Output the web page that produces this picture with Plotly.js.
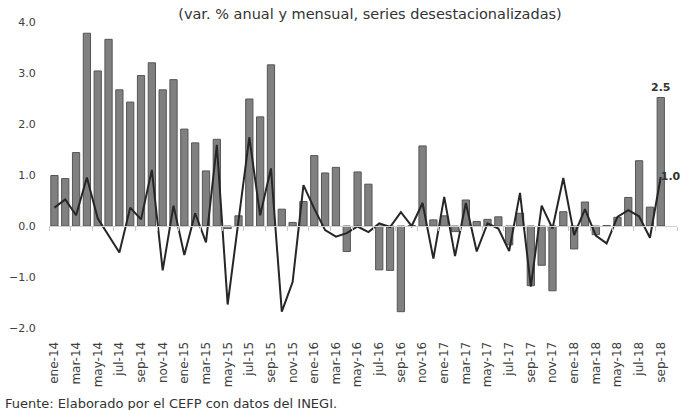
<!DOCTYPE html>
<html>
<head>
<meta charset="utf-8">
<script src="https://cdn.plot.ly/plotly-3.0.1.min.js"></script>
<style>html,body{margin:0;padding:0;background:#fff;}#chart{width:690px;height:410px;}</style>
</head>
<body>
<div id="chart"></div>
<script>
const categories = [
  "ene-14","feb-14","mar-14","abr-14","may-14","jun-14","jul-14","ago-14","sep-14","oct-14","nov-14","dic-14",
  "ene-15","feb-15","mar-15","abr-15","may-15","jun-15","jul-15","ago-15","sep-15","oct-15","nov-15","dic-15",
  "ene-16","feb-16","mar-16","abr-16","may-16","jun-16","jul-16","ago-16","sep-16","oct-16","nov-16","dic-16",
  "ene-17","feb-17","mar-17","abr-17","may-17","jun-17","jul-17","ago-17","sep-17","oct-17","nov-17","dic-17",
  "ene-18","feb-18","mar-18","abr-18","may-18","jun-18","jul-18","ago-18","sep-18"
];
// Variación % anual (barras)
const anual = [
  0.99, 0.93, 1.44, 3.78, 3.04, 3.66, 2.67, 2.43, 2.95, 3.20, 2.67, 2.87,
  1.90, 1.63, 1.08, 1.70, -0.05, 0.20, 2.49, 2.14, 3.16, 0.33, 0.07, 0.48,
  1.38, 1.04, 1.15, -0.50, 1.06, 0.82, -0.86, -0.87, -1.68, 0.01, 1.57, 0.12,
  0.20, -0.11, 0.51, 0.09, 0.13, 0.18, -0.37, 0.25, -1.17, -0.77, -1.27, 0.28,
  -0.45, 0.47, -0.17, 0.01, 0.17, 0.56, 1.28, 0.37, 2.52
];
// Variación % mensual (línea)
const mensual = [
  0.36, 0.52, 0.21, 0.95, 0.15, -0.18, -0.52, 0.36, 0.13, 1.10, -0.87, 0.40,
  -0.57, 0.25, -0.32, 1.59, -1.54, 0.10, 1.74, 0.21, 1.13, -1.68, -1.10, 0.80,
  0.34, -0.08, -0.21, -0.14, -0.01, -0.12, 0.05, -0.02, 0.27, 0.00, 0.45, -0.64,
  0.57, -0.59, 0.45, -0.50, 0.05, -0.05, -0.49, 0.65, -1.19, 0.40, -0.05, 0.94,
  -0.18, 0.33, -0.19, -0.34, 0.18, 0.31, 0.19, -0.23, 0.96
];
const tickLabels = categories.filter((c, i) => i % 2 === 0);

const lastIdx = categories.length - 1;
const barText = anual.map((v, i) => i === lastIdx ? v.toFixed(1) : "");
const lineText = mensual.map((v, i) => i === lastIdx ? v.toFixed(1) : "");

const FONT = "DejaVu Sans, sans-serif";
const yMin = -2, yMax = 4;

const traces = [
  {
    type: "bar", x: categories, y: anual,
    marker: {color: "#808080", line: {color: "#555555", width: 1}},
    text: barText, textposition: "outside", cliponaxis: false, constraintext: "none",
    textfont: {family: FONT, size: 11, color: "#333333", weight: "bold"},
    hoverinfo: "x+y", showlegend: false
  },
  {
    type: "scatter", mode: "lines+text", x: categories, y: mensual,
    line: {color: "#262626", width: 2},
    text: lineText, textposition: "middle right", cliponaxis: false,
    textfont: {family: FONT, size: 11, color: "#333333", weight: "bold"},
    showlegend: false
  },
  {type: "scatter", x: [], y: [], xaxis: "x2", showlegend: false, hoverinfo: "skip"}
];

const layout = {
  width: 690, height: 410,
  margin: {l: 49, r: 13, t: 22, b: 82},
  paper_bgcolor: "#ffffff", plot_bgcolor: "#ffffff",
  font: {family: FONT, color: "#404040"},
  bargap: 0.33,
  title: {
    text: "(var. % anual y mensual, series desestacionalizadas)",
    font: {family: FONT, size: 14.5, color: "#333333"},
    x: 370/690, xanchor: "center", y: 1 - 14/410, yanchor: "middle"
  },
  xaxis: {
    type: "category", range: [-0.5, categories.length + 0.5],
    tickmode: "array", tickvals: tickLabels, ticktext: tickLabels,
    tickangle: -90, tickfont: {family: FONT, size: 12, color: "#404040"},
    ticks: "outside", ticklen: 8, tickcolor: "rgba(0,0,0,0)",
    showline: false, showgrid: false, zeroline: false
  },
  xaxis2: {
    overlaying: "x", anchor: "free", position: (0 - yMin) / (yMax - yMin),
    range: [-0.5, categories.length + 0.5], tick0: -0.5, dtick: 2,
    ticks: "outside", ticklen: 4, tickcolor: "#c8c8c8", tickwidth: 1,
    showline: true, linecolor: "#d0d0d0", linewidth: 1,
    showticklabels: false, showgrid: false, zeroline: false
  },
  yaxis: {
    range: [yMin, yMax], dtick: 1, tickformat: ".1f",
    tickfont: {family: FONT, size: 11, color: "#404040"},
    ticks: "outside", ticklen: 10, tickcolor: "rgba(0,0,0,0)",
    showline: false, showgrid: false, zeroline: false
  },
  annotations: [{
    text: "Fuente: Elaborado por el CEFP con datos del INEGI.",
    xref: "paper", yref: "paper", x: -46/628, y: (327.7 - 403) / 306,
    xanchor: "left", yanchor: "middle", showarrow: false,
    font: {family: FONT, size: 13, color: "#333333"}
  }]
};

Plotly.newPlot("chart", traces, layout, {displayModeBar: false, staticPlot: true});
</script>
</body>
</html>
